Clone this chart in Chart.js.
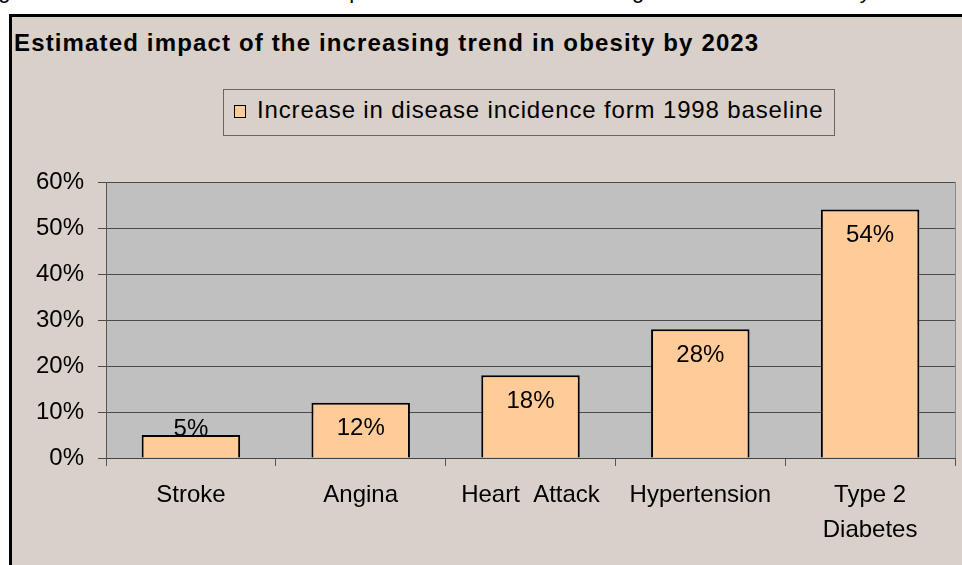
<!DOCTYPE html>
<html>
<head>
<meta charset="utf-8">
<script src="https://cdn.jsdelivr.net/npm/chart.js@4.4.0/dist/chart.umd.min.js"></script>
<style>
  body { margin: 0; background: #ffffff; width: 962px; height: 565px; overflow: hidden; position: relative; font-family: "Liberation Sans", Arial, sans-serif; }
  #caption { position: absolute; left: 0; top: 0; width: 962px; height: 13px; overflow: hidden; }
  #caption span { position: absolute; top: -20px; font-size: 22px; line-height: 22px; color: #000; white-space: pre; }
  #frame { position: absolute; left: 9px; top: 14px; width: 980px; height: 600px; background: #d8d0c9; border-left: 3px solid #000; border-top: 3px solid #000; }
  #title { position: absolute; left: 14px; top: 31px; font-size: 24px; line-height: 24px; font-weight: bold; letter-spacing: 1.15px; color: #000; white-space: nowrap; }
  #legend { position: absolute; left: 223px; top: 89px; width: 612px; height: 47px; border: 1px solid #666; box-sizing: border-box; }
  #legend .sw { position: absolute; left: 10px; top: 15px; width: 10px; height: 11px; background: #ffcc99; border: 1px solid #000; }
  #legend .tx { position: absolute; left: 33px; top: 8px; font-size: 24px; line-height: 24px; letter-spacing: 0.85px; color: #000; white-space: nowrap; }
  canvas { position: absolute; left: 0; top: 0; }
</style>
</head>
<body>
<div id="caption">
  <span style="left:-20px">Figure</span>
  <span style="left:326px">impact</span>
  <span style="left:544px">increasing</span>
  <span style="left:801px">obesity</span>
</div>
<div id="frame"></div>
<div id="title">Estimated impact of the increasing trend in obesity by 2023</div>
<div id="legend"><div class="sw"></div><div class="tx">Increase in disease incidence form 1998 baseline</div></div>
<canvas id="chart" width="962" height="565"></canvas>
<script>
const categories = ["Stroke", "Angina", "Heart  Attack", "Hypertension", ["Type 2", "Diabetes"]];
const increase = [5, 12, 18, 28, 54];
const seriesName = "Increase in disease incidence form 1998 baseline";
const yMax = 60;
const yStep = 10;

Chart.defaults.font.family = '"Liberation Sans", Arial, sans-serif';
Chart.defaults.font.size = 24;
Chart.defaults.color = "#000";

// grey plot background + right border, like the old Excel chart
const plotBg = {
  id: "plotBg",
  beforeDraw(chart) {
    const a = chart.chartArea, c = chart.ctx;
    c.save();
    c.fillStyle = "#c0c0c0";
    c.fillRect(a.left, a.top, a.right - a.left, a.bottom - a.top);
    c.restore();
  },
  afterDatasetsDraw(chart) {
    const a = chart.chartArea, c = chart.ctx;
    c.save();
    c.strokeStyle = "#8a8a8a";
    c.lineWidth = 1;
    c.beginPath();
    c.moveTo(a.right + 0.5, a.top);
    c.lineTo(a.right + 0.5, a.bottom);
    c.stroke();
    c.restore();
  }
};

// value labels near the top of each bar
const barLabels = {
  id: "barLabels",
  afterDatasetsDraw(chart) {
    const c = chart.ctx;
    const base = chart.scales.y.getPixelForValue(0);
    c.save();
    c.font = '24px "Liberation Sans", Arial, sans-serif';
    c.fillStyle = "#000";
    c.textAlign = "center";
    c.textBaseline = "middle";
    chart.getDatasetMeta(0).data.forEach((bar, i) => {
      const y = Math.min(bar.y + 26, base - 29);
      c.fillText(increase[i] + "%", bar.x, y);
    });
    c.restore();
  }
};

new Chart(document.getElementById("chart"), {
  type: "bar",
  plugins: [plotBg, barLabels],
  data: {
    labels: categories,
    datasets: [{
      label: seriesName,
      data: increase,
      backgroundColor: "#ffcc99",
      borderColor: "#000",
      borderWidth: 2,
      categoryPercentage: 0.58,
      barPercentage: 1
    }]
  },
  options: {
    responsive: false,
    animation: false,
    devicePixelRatio: 1,
    layout: { padding: { left: 0, right: 7, top: 182, bottom: 0 } },
    plugins: { legend: { display: false }, title: { display: false }, tooltip: { enabled: false } },
    scales: {
      x: {
        offset: true,
        grid: { offset: true, drawOnChartArea: false, drawTicks: true, tickLength: 8, color: "#555" },
        border: { color: "#444", width: 1 },
        ticks: { padding: 12, font: { size: 24, lineHeight: 1.46 } },
        afterFit(s) { s.height = 107; }
      },
      y: {
        min: 0,
        max: yMax,
        grid: { color: "#4a4a4a", tickLength: 8 },
        border: { color: "#555", width: 1 },
        ticks: { stepSize: yStep, padding: 14, callback: v => v + "%" },
        afterFit(s) { s.width = 106; }
      }
    }
  }
});
</script>
</body>
</html>
